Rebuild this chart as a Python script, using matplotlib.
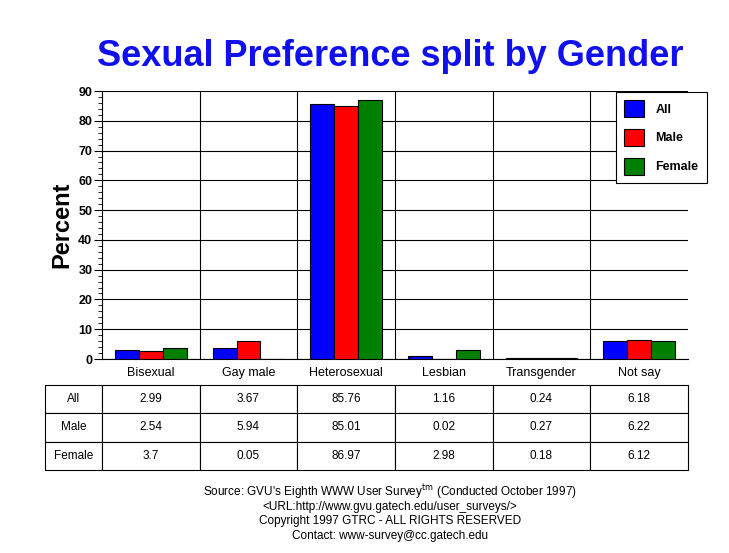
import numpy as np
import matplotlib.pyplot as plt
from matplotlib.ticker import MultipleLocator

categories = ["Bisexual", "Gay male", "Heterosexual", "Lesbian", "Transgender", "Not say"]
series = ["All", "Male", "Female"]
all_vals = [2.99, 3.67, 85.76, 1.16, 0.24, 6.18]
male_vals = [2.54, 5.94, 85.01, 0.02, 0.27, 6.22]
female_vals = [3.7, 0.05, 86.97, 2.98, 0.18, 6.12]
colors = ["#0000ff", "#ff0000", "#008000"]

plt.rcParams["font.family"] = ["Liberation Sans", "DejaVu Sans"]

fig = plt.figure(figsize=(7.29, 5.53), dpi=100)
ax = fig.add_axes([102 / 729, 1 - 359 / 553, 586 / 729, 268 / 553])

ind = np.arange(len(categories))
width = 0.245
for i, (vals, c) in enumerate(zip([all_vals, male_vals, female_vals], colors)):
    ax.bar(ind + (i - 1) * width, vals, width, color=c, edgecolor="black",
           linewidth=0.8, label=series[i], zorder=3)

ax.set_xlim(-0.5, len(categories) - 0.5)
ax.set_ylim(0, 90)
ax.yaxis.set_major_locator(MultipleLocator(10))
ax.yaxis.set_minor_locator(MultipleLocator(2))
ax.grid(axis="y", color="black", linewidth=0.8, zorder=0)
for b in np.arange(0.5, len(categories) - 0.5, 1):
    ax.axvline(b, color="black", linewidth=0.8, zorder=0)
ax.set_xticks(ind)
ax.set_xticklabels(categories, fontsize=9)
ax.tick_params(axis="x", length=0, pad=6)
ax.tick_params(axis="y", which="major", length=6, labelsize=9, pad=1)
ax.tick_params(axis="y", which="minor", length=3)
for lbl in ax.get_yticklabels():
    lbl.set_fontweight("bold")
for s in ["top", "right"]:
    ax.spines[s].set_visible(False)
ax.set_ylabel("Percent", fontsize=17, fontweight="bold")
ax.yaxis.set_label_coords(-29 / 586, 0.5)

fig.text(390 / 729, 1 - 57 / 553, "Sexual Preference split by Gender", color="#1010ee",
         fontsize=26, fontweight="bold", ha="center", va="center")

leg = fig.legend(loc="upper left", bbox_to_anchor=(616 / 729, 1 - 92 / 553),
                 borderaxespad=0, frameon=True, fancybox=False, edgecolor="black",
                 framealpha=1, prop={"size": 9, "weight": "bold"}, handlelength=1.6,
                 handleheight=1.7, labelspacing=0.95, borderpad=0.65,
                 handletextpad=0.9)
leg.get_frame().set_linewidth(0.8)
leg.set_zorder(10)

cell_text = [[f"{v:g}" for v in vals] for vals in [all_vals, male_vals, female_vals]]
rows = [[s] + r for s, r in zip(series, cell_text)]
first = 57 / 643
other = 98 / 643
tbl = ax.table(cellText=rows, colWidths=[first] + [other] * 6, cellLoc="center",
               bbox=[-57 / 586, -111 / 268, 643 / 586, 85 / 268])
tbl.auto_set_font_size(False)
tbl.set_fontsize(8.5)
for cell in tbl.get_celld().values():
    cell.set_linewidth(0.8)

footer = ["Source: GVU's Eighth WWW User Survey$^{\\rm tm}$ (Conducted October 1997)",
          "<URL:http://www.gvu.gatech.edu/user_surveys/>",
          "Copyright 1997 GTRC - ALL RIGHTS RESERVED",
          "Contact: www-survey@cc.gatech.edu"]
for k, line in enumerate(footer):
    fig.text(390 / 729, 1 - (492 + k * 14.7) / 553, line, fontsize=8.5,
             ha="center", va="center")

fig.savefig("out.png", dpi=100)
